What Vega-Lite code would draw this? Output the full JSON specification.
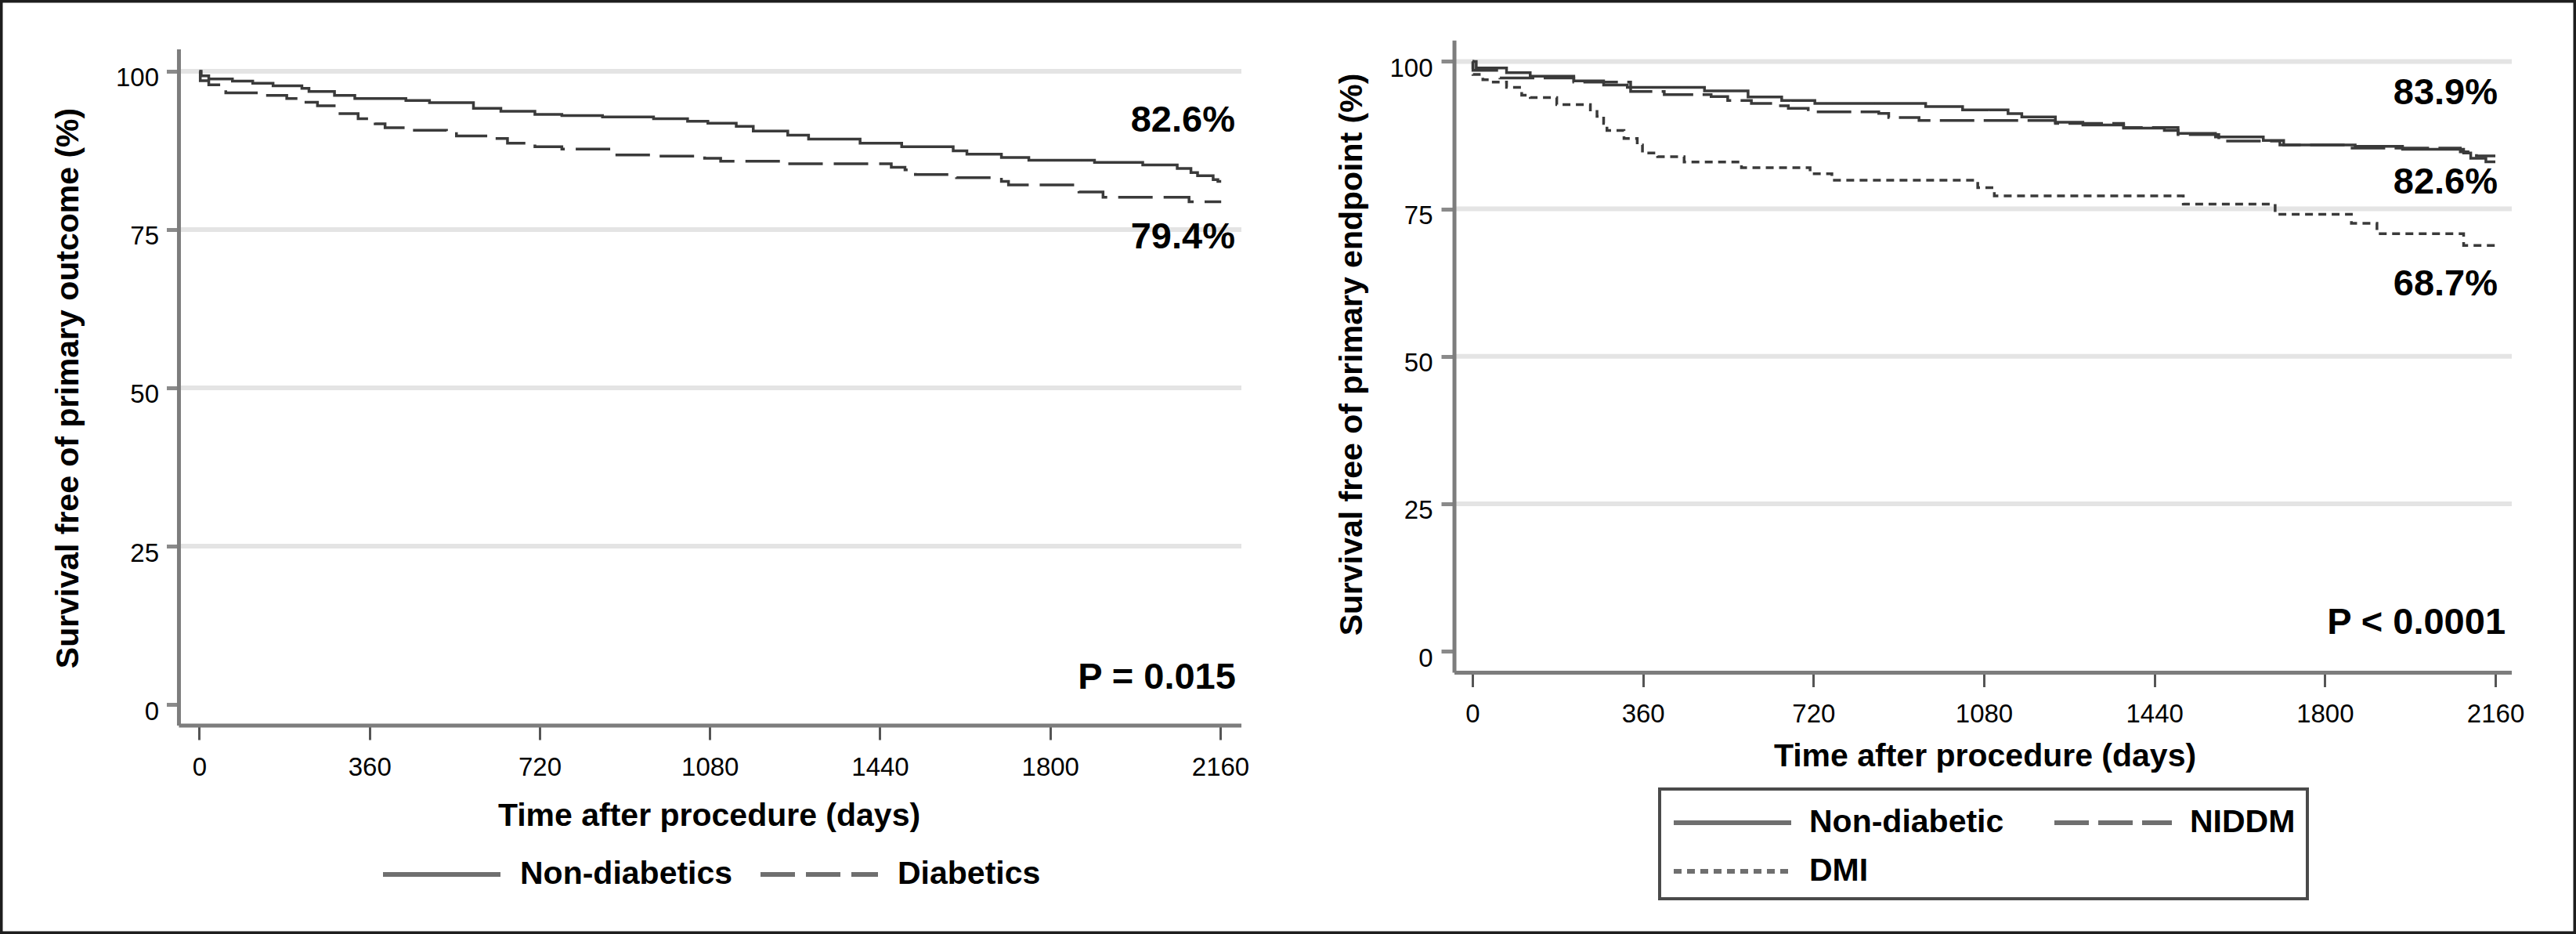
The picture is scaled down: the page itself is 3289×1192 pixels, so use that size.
{
  "$schema": "https://vega.github.io/schema/vega-lite/v6.json",
  "width": 3289,
  "height": 1192,
  "autosize": {"type": "none"},
  "padding": 0,
  "background": "white",
  "config": {
    "font": "Liberation Sans",
    "view": {"stroke": "#1e1e1e", "strokeWidth": 7},
    "axis": {
      "labelFont": "Liberation Sans", "titleFont": "Liberation Sans",
      "labelColor": "#000000", "titleColor": "#000000",
      "labelFontSize": 33, "titleFontSize": 41, "titleFontWeight": "bold",
      "domain": false, "grid": false, "labelOverlap": false, "labelFlush": false
    },
    "legend": {
      "labelFont": "Liberation Sans", "labelFontSize": 41, "labelFontWeight": "bold",
      "labelColor": "#000000", "labelLimit": 1000, "strokeWidth": 4
    }
  },
  "datasets": {
    "left": [
      {"t": 0, "s": 100, "group": "Non-diabetics"}, {"t": 4, "s": 99.3, "group": "Non-diabetics"},
      {"t": 20, "s": 98.8, "group": "Non-diabetics"}, {"t": 70, "s": 98.45, "group": "Non-diabetics"},
      {"t": 113, "s": 98.1, "group": "Non-diabetics"}, {"t": 156, "s": 97.7, "group": "Non-diabetics"},
      {"t": 217, "s": 97.3, "group": "Non-diabetics"}, {"t": 232, "s": 96.8, "group": "Non-diabetics"},
      {"t": 286, "s": 96.2, "group": "Non-diabetics"}, {"t": 329, "s": 95.7, "group": "Non-diabetics"},
      {"t": 437, "s": 95.4, "group": "Non-diabetics"}, {"t": 487, "s": 95.05, "group": "Non-diabetics"},
      {"t": 580, "s": 94.15, "group": "Non-diabetics"}, {"t": 638, "s": 93.7, "group": "Non-diabetics"},
      {"t": 710, "s": 93.2, "group": "Non-diabetics"}, {"t": 767, "s": 93.0, "group": "Non-diabetics"},
      {"t": 853, "s": 92.8, "group": "Non-diabetics"}, {"t": 961, "s": 92.5, "group": "Non-diabetics"},
      {"t": 1033, "s": 92.1, "group": "Non-diabetics"}, {"t": 1076, "s": 91.8, "group": "Non-diabetics"},
      {"t": 1136, "s": 91.3, "group": "Non-diabetics"}, {"t": 1172, "s": 90.55, "group": "Non-diabetics"},
      {"t": 1245, "s": 89.9, "group": "Non-diabetics"}, {"t": 1289, "s": 89.3, "group": "Non-diabetics"},
      {"t": 1398, "s": 88.65, "group": "Non-diabetics"}, {"t": 1486, "s": 88.1, "group": "Non-diabetics"},
      {"t": 1595, "s": 87.45, "group": "Non-diabetics"}, {"t": 1624, "s": 86.9, "group": "Non-diabetics"},
      {"t": 1697, "s": 86.4, "group": "Non-diabetics"}, {"t": 1755, "s": 85.95, "group": "Non-diabetics"},
      {"t": 1894, "s": 85.6, "group": "Non-diabetics"}, {"t": 1996, "s": 85.2, "group": "Non-diabetics"},
      {"t": 2069, "s": 84.65, "group": "Non-diabetics"}, {"t": 2098, "s": 84.0, "group": "Non-diabetics"},
      {"t": 2112, "s": 83.5, "group": "Non-diabetics"}, {"t": 2145, "s": 82.9, "group": "Non-diabetics"},
      {"t": 2155, "s": 82.6, "group": "Non-diabetics"}, {"t": 2162, "s": 82.6, "group": "Non-diabetics"},
      {"t": 0, "s": 100, "group": "Diabetics"}, {"t": 2, "s": 98.5, "group": "Diabetics"},
      {"t": 20, "s": 97.85, "group": "Diabetics"}, {"t": 56, "s": 96.6, "group": "Diabetics"},
      {"t": 135, "s": 96.2, "group": "Diabetics"}, {"t": 185, "s": 95.7, "group": "Diabetics"},
      {"t": 221, "s": 95.1, "group": "Diabetics"}, {"t": 250, "s": 94.55, "group": "Diabetics"},
      {"t": 293, "s": 93.3, "group": "Diabetics"}, {"t": 336, "s": 92.5, "group": "Diabetics"},
      {"t": 372, "s": 91.7, "group": "Diabetics"}, {"t": 393, "s": 91.1, "group": "Diabetics"},
      {"t": 451, "s": 90.7, "group": "Diabetics"}, {"t": 523, "s": 90.4, "group": "Diabetics"},
      {"t": 544, "s": 89.8, "group": "Diabetics"}, {"t": 623, "s": 89.4, "group": "Diabetics"},
      {"t": 652, "s": 88.65, "group": "Diabetics"}, {"t": 710, "s": 88.1, "group": "Diabetics"},
      {"t": 767, "s": 87.7, "group": "Diabetics"}, {"t": 875, "s": 86.8, "group": "Diabetics"},
      {"t": 968, "s": 86.6, "group": "Diabetics"}, {"t": 1069, "s": 86.25, "group": "Diabetics"},
      {"t": 1103, "s": 85.8, "group": "Diabetics"}, {"t": 1245, "s": 85.4, "group": "Diabetics"},
      {"t": 1464, "s": 84.85, "group": "Diabetics"}, {"t": 1493, "s": 84.45, "group": "Diabetics"},
      {"t": 1515, "s": 83.7, "group": "Diabetics"}, {"t": 1602, "s": 83.2, "group": "Diabetics"},
      {"t": 1697, "s": 82.6, "group": "Diabetics"}, {"t": 1712, "s": 82.05, "group": "Diabetics"},
      {"t": 1861, "s": 80.95, "group": "Diabetics"}, {"t": 1912, "s": 80.1, "group": "Diabetics"},
      {"t": 2094, "s": 79.4, "group": "Diabetics"}, {"t": 2162, "s": 79.4, "group": "Diabetics"}
    ],
    "right": [
      {"t": 0, "s": 100, "group": "Non-diabetic"}, {"t": 8, "s": 98.9, "group": "Non-diabetic"},
      {"t": 72, "s": 98.1, "group": "Non-diabetic"}, {"t": 122, "s": 97.5, "group": "Non-diabetic"},
      {"t": 214, "s": 96.7, "group": "Non-diabetic"}, {"t": 277, "s": 96.0, "group": "Non-diabetic"},
      {"t": 327, "s": 95.6, "group": "Non-diabetic"}, {"t": 490, "s": 95.0, "group": "Non-diabetic"},
      {"t": 582, "s": 94.0, "group": "Non-diabetic"}, {"t": 653, "s": 93.4, "group": "Non-diabetic"},
      {"t": 723, "s": 92.9, "group": "Non-diabetic"}, {"t": 957, "s": 92.35, "group": "Non-diabetic"},
      {"t": 1035, "s": 91.8, "group": "Non-diabetic"}, {"t": 1131, "s": 91.15, "group": "Non-diabetic"},
      {"t": 1160, "s": 90.6, "group": "Non-diabetic"}, {"t": 1231, "s": 89.7, "group": "Non-diabetic"},
      {"t": 1289, "s": 89.25, "group": "Non-diabetic"}, {"t": 1375, "s": 88.7, "group": "Non-diabetic"},
      {"t": 1461, "s": 88.3, "group": "Non-diabetic"}, {"t": 1490, "s": 87.8, "group": "Non-diabetic"},
      {"t": 1569, "s": 87.2, "group": "Non-diabetic"}, {"t": 1670, "s": 86.6, "group": "Non-diabetic"},
      {"t": 1713, "s": 85.85, "group": "Non-diabetic"}, {"t": 1864, "s": 85.6, "group": "Non-diabetic"},
      {"t": 1964, "s": 85.1, "group": "Non-diabetic"}, {"t": 2093, "s": 84.5, "group": "Non-diabetic"},
      {"t": 2108, "s": 83.6, "group": "Non-diabetic"}, {"t": 2140, "s": 83.0, "group": "Non-diabetic"},
      {"t": 2160, "s": 83.0, "group": "Non-diabetic"},
      {"t": 0, "s": 100, "group": "NIDDM"}, {"t": 1, "s": 98.5, "group": "NIDDM"},
      {"t": 58, "s": 97.2, "group": "NIDDM"}, {"t": 214, "s": 96.5, "group": "NIDDM"},
      {"t": 334, "s": 94.9, "group": "NIDDM"}, {"t": 405, "s": 94.4, "group": "NIDDM"},
      {"t": 504, "s": 94.05, "group": "NIDDM"}, {"t": 539, "s": 93.4, "group": "NIDDM"},
      {"t": 589, "s": 92.9, "group": "NIDDM"}, {"t": 646, "s": 92.5, "group": "NIDDM"},
      {"t": 667, "s": 92.05, "group": "NIDDM"}, {"t": 709, "s": 91.45, "group": "NIDDM"},
      {"t": 858, "s": 91.2, "group": "NIDDM"}, {"t": 879, "s": 90.5, "group": "NIDDM"},
      {"t": 943, "s": 90.0, "group": "NIDDM"}, {"t": 1231, "s": 89.5, "group": "NIDDM"},
      {"t": 1375, "s": 88.8, "group": "NIDDM"}, {"t": 1490, "s": 87.6, "group": "NIDDM"},
      {"t": 1576, "s": 86.5, "group": "NIDDM"}, {"t": 1705, "s": 85.85, "group": "NIDDM"},
      {"t": 1849, "s": 85.3, "group": "NIDDM"}, {"t": 2086, "s": 84.7, "group": "NIDDM"},
      {"t": 2120, "s": 84.0, "group": "NIDDM"}, {"t": 2160, "s": 84.0, "group": "NIDDM"},
      {"t": 0, "s": 100, "group": "DMI"}, {"t": 1, "s": 97.8, "group": "DMI"},
      {"t": 22, "s": 96.9, "group": "DMI"}, {"t": 44, "s": 96.5, "group": "DMI"},
      {"t": 72, "s": 95.6, "group": "DMI"}, {"t": 104, "s": 94.3, "group": "DMI"},
      {"t": 122, "s": 93.9, "group": "DMI"}, {"t": 178, "s": 92.7, "group": "DMI"},
      {"t": 249, "s": 91.8, "group": "DMI"}, {"t": 263, "s": 90.7, "group": "DMI"},
      {"t": 277, "s": 89.5, "group": "DMI"}, {"t": 284, "s": 88.3, "group": "DMI"},
      {"t": 320, "s": 86.95, "group": "DMI"}, {"t": 348, "s": 85.85, "group": "DMI"},
      {"t": 359, "s": 84.5, "group": "DMI"}, {"t": 391, "s": 83.85, "group": "DMI"},
      {"t": 447, "s": 82.95, "group": "DMI"}, {"t": 568, "s": 82.0, "group": "DMI"},
      {"t": 713, "s": 80.95, "group": "DMI"}, {"t": 759, "s": 79.85, "group": "DMI"},
      {"t": 1067, "s": 78.6, "group": "DMI"}, {"t": 1102, "s": 77.2, "group": "DMI"},
      {"t": 1501, "s": 75.8, "group": "DMI"}, {"t": 1695, "s": 74.1, "group": "DMI"},
      {"t": 1856, "s": 72.55, "group": "DMI"}, {"t": 1910, "s": 70.8, "group": "DMI"},
      {"t": 2093, "s": 68.8, "group": "DMI"}, {"t": 2165, "s": 68.8, "group": "DMI"}
    ],
    "grid": [{"g": 25}, {"g": 50}, {"g": 75}, {"g": 100}],
    "one": [{}]
  },
  "layer": [
    {
      "layer": [
        {
          "data": {"name": "grid"},
          "mark": {"type": "rule", "color": "#e4e4e4", "strokeWidth": 6},
          "encoding": {
            "y": {"field": "g", "type": "quantitative", "scale": {"domain": [-36.26, 111.26], "nice": false, "zero": false}},
            "x": {"datum": -43.1, "type": "quantitative", "scale": {"domain": [-421.7, 5028.4], "nice": false, "zero": false}},
            "x2": {"datum": 2204.8}
          }
        },
        {
          "data": {"name": "one"},
          "mark": {"type": "rule", "color": "#7d7d7d", "strokeWidth": 5},
          "encoding": {
            "x": {"datum": -43.1, "type": "quantitative", "scale": {"domain": [-421.7, 5028.4], "nice": false, "zero": false}},
            "y": {"datum": -3.34, "type": "quantitative", "scale": {"domain": [-36.26, 111.26], "nice": false, "zero": false}},
            "y2": {"datum": 103.47}
          }
        },
        {
          "data": {"name": "one"},
          "mark": {"type": "rule", "color": "#7d7d7d", "strokeWidth": 5},
          "encoding": {
            "y": {"datum": -3.34, "type": "quantitative", "scale": {"domain": [-36.26, 111.26], "nice": false, "zero": false}},
            "x": {"datum": -43.1, "type": "quantitative", "scale": {"domain": [-421.7, 5028.4], "nice": false, "zero": false}},
            "x2": {"datum": 2204.8}
          }
        },
        {
          "data": {"name": "left"},
          "mark": {"type": "line", "interpolate": "step-after", "strokeWidth": 3.5, "color": "#3a3a3a"},
          "encoding": {
            "x": {
              "field": "t", "type": "quantitative",
              "scale": {"domain": [-421.7, 5028.4], "nice": false, "zero": false},
              "axis": {
                "orient": "bottom", "offset": -266, "values": [0, 360, 720, 1080, 1440, 1800, 2160], "format": "d",
                "tickSize": 18, "tickWidth": 3, "tickColor": "#555555", "labelPadding": 19,
                "title": "Time after procedure (days)", "titleX": 905, "titleY": 127,
                "titleAlign": "center", "titleBaseline": "alphabetic", "titleAngle": 0
              }
            },
            "y": {
              "field": "s", "type": "quantitative",
              "scale": {"domain": [-36.26, 111.26], "nice": false, "zero": false},
              "axis": {
                "orient": "left", "offset": -228.5, "values": [0, 25, 50, 75, 100], "format": "d",
                "tickSize": 16, "tickWidth": 5, "tickColor": "#8a8a8a", "labelPadding": 10, "labelOffset": 9,
                "title": "Survival free of primary outcome (%)", "titleX": -129, "titleY": 495,
                "titleAngle": 270, "titleAlign": "center", "titleBaseline": "alphabetic"
              }
            },
            "strokeDash": {
              "field": "group", "type": "nominal",
              "scale": {"domain": ["Non-diabetics", "Diabetics"], "range": [[1, 0], [44, 14]]},
              "legend": {
                "title": null, "orient": "none", "legendX": 486, "legendY": 1088,
                "direction": "horizontal", "columns": 2, "padding": 0,
                "symbolType": "M-1,0H5", "symbolSize": 2500, "symbolStrokeWidth": 6, "symbolStrokeColor": "#6f6f6f",
                "labelOffset": 122, "columnPadding": 23
              }
            }
          }
        },
        {
          "data": {"name": "one"},
          "mark": {"type": "text", "text": "82.6%", "align": "right", "baseline": "alphabetic", "fontSize": 47, "fontWeight": "bold", "color": "#000000"},
          "encoding": {
            "x": {"datum": 2191.5, "type": "quantitative", "scale": {"domain": [-421.7, 5028.4], "nice": false, "zero": false}},
            "y": {"datum": 90.47, "type": "quantitative", "scale": {"domain": [-36.26, 111.26], "nice": false, "zero": false}}
          }
        },
        {
          "data": {"name": "one"},
          "mark": {"type": "text", "text": "79.4%", "align": "right", "baseline": "alphabetic", "fontSize": 47, "fontWeight": "bold", "color": "#000000"},
          "encoding": {
            "x": {"datum": 2191.5, "type": "quantitative", "scale": {"domain": [-421.7, 5028.4], "nice": false, "zero": false}},
            "y": {"datum": 72.03, "type": "quantitative", "scale": {"domain": [-36.26, 111.26], "nice": false, "zero": false}}
          }
        },
        {
          "data": {"name": "one"},
          "mark": {"type": "text", "text": "P = 0.015", "align": "right", "baseline": "alphabetic", "fontSize": 47, "fontWeight": "bold", "color": "#000000"},
          "encoding": {
            "x": {"datum": 2193, "type": "quantitative", "scale": {"domain": [-421.7, 5028.4], "nice": false, "zero": false}},
            "y": {"datum": 2.48, "type": "quantitative", "scale": {"domain": [-36.26, 111.26], "nice": false, "zero": false}}
          }
        }
      ]
    },
    {
      "layer": [
        {
          "data": {"name": "grid"},
          "mark": {"type": "rule", "color": "#e4e4e4", "strokeWidth": 6},
          "encoding": {
            "y": {"field": "g", "type": "quantitative", "scale": {"domain": [-47.97, 110.43], "nice": false, "zero": false}},
            "x": {"datum": -38, "type": "quantitative", "scale": {"domain": [-3109.3, 2330.3], "nice": false, "zero": false}},
            "x2": {"datum": 2194.7}
          }
        },
        {
          "data": {"name": "one"},
          "mark": {"type": "rule", "color": "#7d7d7d", "strokeWidth": 5},
          "encoding": {
            "x": {"datum": -38, "type": "quantitative", "scale": {"domain": [-3109.3, 2330.3], "nice": false, "zero": false}},
            "y": {"datum": -3.65, "type": "quantitative", "scale": {"domain": [-47.97, 110.43], "nice": false, "zero": false}},
            "y2": {"datum": 103.56}
          }
        },
        {
          "data": {"name": "one"},
          "mark": {"type": "rule", "color": "#7d7d7d", "strokeWidth": 5},
          "encoding": {
            "y": {"datum": -3.65, "type": "quantitative", "scale": {"domain": [-47.97, 110.43], "nice": false, "zero": false}},
            "x": {"datum": -38, "type": "quantitative", "scale": {"domain": [-3109.3, 2330.3], "nice": false, "zero": false}},
            "x2": {"datum": 2194.7}
          }
        },
        {
          "data": {"name": "right"},
          "mark": {"type": "line", "interpolate": "step-after", "strokeWidth": 3.5, "color": "#3a3a3a"},
          "encoding": {
            "x": {
              "field": "t", "type": "quantitative",
              "scale": {"domain": [-3109.3, 2330.3], "nice": false, "zero": false},
              "axis": {
                "orient": "bottom", "offset": -333.5, "values": [0, 360, 720, 1080, 1440, 1800, 2160], "format": "d",
                "tickSize": 18, "tickWidth": 3, "tickColor": "#555555", "labelPadding": 19,
                "title": "Time after procedure (days)", "titleX": 2534, "titleY": 119,
                "titleAlign": "center", "titleBaseline": "alphabetic", "titleAngle": 0
              }
            },
            "y": {
              "field": "s", "type": "quantitative",
              "scale": {"domain": [-47.97, 110.43], "nice": false, "zero": false},
              "axis": {
                "orient": "left", "offset": -1857, "values": [0, 25, 50, 75, 100], "format": "d",
                "tickSize": 17, "tickWidth": 5, "tickColor": "#8a8a8a", "labelPadding": 11, "labelOffset": 9,
                "title": "Survival free of primary endpoint (%)", "titleX": -118.6, "titleY": 452,
                "titleAngle": 270, "titleAlign": "center", "titleBaseline": "alphabetic"
              }
            },
            "strokeDash": {
              "field": "group", "type": "nominal",
              "scale": {"domain": ["Non-diabetic", "NIDDM", "DMI"], "range": [[1, 0], [44, 12], [10, 7]]},
              "legend": {
                "title": null, "orient": "none", "legendX": 2119, "legendY": 1007,
                "direction": "horizontal", "columns": 2, "padding": 15,
                "strokeColor": "#4a4a4a", "fillColor": "#ffffff",
                "symbolType": "M-1,0H5", "symbolSize": 2500, "symbolStrokeWidth": 6, "symbolStrokeColor": "#6f6f6f",
                "labelOffset": 120, "columnPadding": 52, "rowPadding": 14
              }
            }
          }
        },
        {
          "data": {"name": "one"},
          "mark": {"type": "text", "text": "83.9%", "align": "right", "baseline": "alphabetic", "fontSize": 47, "fontWeight": "bold", "color": "#000000"},
          "encoding": {
            "x": {"datum": 2165, "type": "quantitative", "scale": {"domain": [-3109.3, 2330.3], "nice": false, "zero": false}},
            "y": {"datum": 92.76, "type": "quantitative", "scale": {"domain": [-47.97, 110.43], "nice": false, "zero": false}}
          }
        },
        {
          "data": {"name": "one"},
          "mark": {"type": "text", "text": "82.6%", "align": "right", "baseline": "alphabetic", "fontSize": 47, "fontWeight": "bold", "color": "#000000"},
          "encoding": {
            "x": {"datum": 2165, "type": "quantitative", "scale": {"domain": [-3109.3, 2330.3], "nice": false, "zero": false}},
            "y": {"datum": 77.6, "type": "quantitative", "scale": {"domain": [-47.97, 110.43], "nice": false, "zero": false}}
          }
        },
        {
          "data": {"name": "one"},
          "mark": {"type": "text", "text": "68.7%", "align": "right", "baseline": "alphabetic", "fontSize": 47, "fontWeight": "bold", "color": "#000000"},
          "encoding": {
            "x": {"datum": 2165, "type": "quantitative", "scale": {"domain": [-3109.3, 2330.3], "nice": false, "zero": false}},
            "y": {"datum": 60.33, "type": "quantitative", "scale": {"domain": [-47.97, 110.43], "nice": false, "zero": false}}
          }
        },
        {
          "data": {"name": "one"},
          "mark": {"type": "text", "text": "P < 0.0001", "align": "right", "baseline": "alphabetic", "fontSize": 47, "fontWeight": "bold", "color": "#000000"},
          "encoding": {
            "x": {"datum": 2181.5, "type": "quantitative", "scale": {"domain": [-3109.3, 2330.3], "nice": false, "zero": false}},
            "y": {"datum": 2.86, "type": "quantitative", "scale": {"domain": [-47.97, 110.43], "nice": false, "zero": false}}
          }
        }
      ]
    }
  ],
  "resolve": {
    "scale": {"x": "independent", "y": "independent", "strokeDash": "independent"},
    "axis": {"x": "independent", "y": "independent"},
    "legend": {"strokeDash": "independent"}
  }
}
